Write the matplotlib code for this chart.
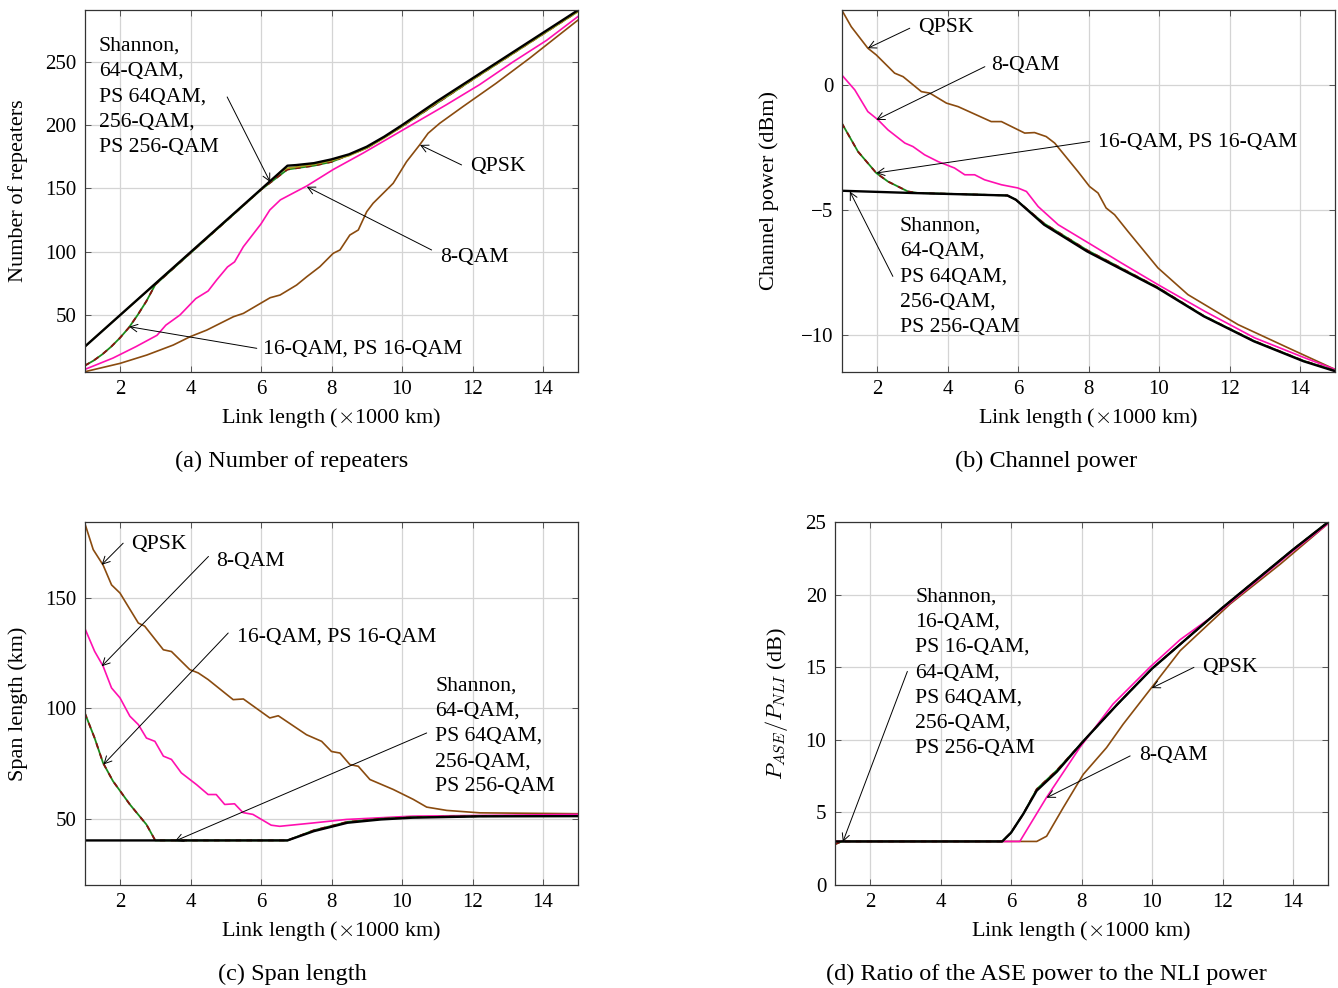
import matplotlib
matplotlib.use("Agg")
from matplotlib import pyplot as plt

plt.rcParams['font.family'] = ['Liberation Serif', 'DejaVu Serif']
plt.rcParams['mathtext.fontset'] = 'cm'
plt.rcParams['font.size'] = 15

BROWN = '#8a4b0f'
MAGENTA = '#ff10b0'
GREEN = '#1a8a1a'
DARKRED = '#8b1010'
OLIVE = '#a8a020'

# ---------------- (a) number of repeaters ----------------
a_shannon_x = [1, 6.75, 7, 7.5, 8, 8.5, 9, 9.5, 10, 11, 12, 13, 14, 15]
a_shannon_y = [25, 168, 168.5, 170, 173, 177, 183, 191, 200, 219, 237, 255, 273, 291]
a_qam16_x = [1, 1.25, 1.5, 1.75, 2, 2.25, 2.5, 2.75, 3, 4, 5, 6, 6.75, 7, 7.5, 8, 9, 10, 12, 15]
a_qam16_y = [10, 14, 19, 25, 32, 40, 50, 61, 74, 99, 124, 149, 165, 166, 168, 171, 182, 199, 236, 290]
a_qam64_x = [1, 6.6, 6.75, 7, 7.5, 8, 8.5, 9, 9.5, 10, 11, 12, 13, 14, 15]
a_qam64_y = [25, 164, 166, 167, 169, 172, 176, 182, 190, 199, 218, 236, 254, 272, 290]
a_qam8_x = [1, 1.8, 2.45, 3.05, 3.3, 3.7, 4.15, 4.5, 4.75, 5.05, 5.25, 5.5, 6.0, 6.25, 6.55, 7.3,
            8.05, 8.9, 9.95, 11.25, 12.2, 13.15, 14.1, 15]
a_qam8_y = [7, 16, 25, 34, 42, 50, 63, 69, 78, 88, 92, 104, 122, 133, 141, 152,
            165, 178, 195, 216, 232, 250, 267, 286]
a_qpsk_x = [1, 2, 2.76, 3.51, 3.99, 4.46, 5.22, 5.5, 6.26, 6.54, 7.01, 7.3, 7.67, 8.05, 8.24, 8.52,
            8.76, 9.0, 9.18, 9.56, 9.75, 10.13, 10.5, 10.74, 11.07, 11.73, 12.67, 13.62, 15]
a_qpsk_y = [5.2, 11.8, 18.4, 26.3, 32.9, 38.1, 48.7, 51.3, 63.7, 65.8, 73.7, 80.3, 88.2, 98.8, 101.4, 113.2,
            117.2, 131.7, 138.3, 148.8, 154.1, 171.2, 184.4, 193.6, 201.5, 214.7, 233.1, 252.9, 283.2]

# ---------------- (b) channel power ----------------
b_shannon_x = [1, 3, 5.7, 5.94, 6.74, 7.96, 9.95, 11.27, 12.69, 14.1, 15]
b_shannon_y = [-4.24, -4.33, -4.43, -4.6, -5.6, -6.67, -8.13, -9.27, -10.27, -11.07, -11.47]
b_qam16_x = [1, 1.46, 1.98, 2.31, 2.88, 3.16, 4, 5, 5.7, 5.94, 6.74, 7.96, 9.95, 11.27, 12.69, 14.1, 15]
b_qam16_y = [-1.53, -2.67, -3.53, -3.87, -4.27, -4.33, -4.36, -4.4, -4.43, -4.6, -5.55, -6.62, -8.1,
             -9.25, -10.25, -11.05, -11.45]
b_qam8_x = [1, 1.37, 1.74, 2.03, 2.31, 2.79, 3.02, 3.35, 3.73, 4.2, 4.49, 4.77, 5.05, 5.53, 6.0,
            6.24, 6.57, 7.14, 8.08, 8.93, 9.97, 11.3, 12.71, 14.13, 15]
b_qam8_y = [0.4, -0.2, -1.07, -1.4, -1.8, -2.33, -2.47, -2.8, -3.07, -3.33, -3.6, -3.6, -3.8, -4.0, -4.13,
            -4.27, -4.87, -5.6, -6.4, -7.13, -8.0, -9.07, -10.13, -10.93, -11.4]
b_qpsk_x = [1, 1.27, 1.74, 1.98, 2.5, 2.74, 3.26, 3.5, 3.97, 4.3, 5.24, 5.53, 6.19, 6.47, 6.8, 7.04,
            7.7, 8.03, 8.27, 8.5, 8.74, 9.12, 9.97, 10.82, 12.24, 13.66, 15]
b_qpsk_y = [3.0, 2.33, 1.47, 1.2, 0.47, 0.33, -0.27, -0.33, -0.73, -0.87, -1.47, -1.47, -1.93, -1.91, -2.07,
            -2.33, -3.47, -4.07, -4.33, -4.93, -5.2, -5.87, -7.33, -8.4, -9.6, -10.53, -11.4]

# ---------------- (c) span length ----------------
c_shannon_x = [1, 6.75, 7.5, 8.45, 9.4, 10.3, 12.2, 15]
c_shannon_y = [40.2, 40.2, 44.4, 48.2, 49.7, 50.5, 51.1, 51.2]
c_qam16_x = [1, 1.28, 1.52, 1.8, 2.28, 2.75, 3.0, 6.75, 7.5, 8.45, 9.4, 10.3, 12.2, 15]
c_qam16_y = [98, 86.6, 75.3, 67.1, 56.5, 47.4, 40.2, 40.2, 44.8, 48.6, 50.0, 50.7, 51.2, 51.3]
c_qam8_x = [1, 1.28, 1.52, 1.76, 2.0, 2.28, 2.52, 2.75, 2.99, 3.23, 3.46, 3.74, 4.17, 4.5, 4.73,
            4.97, 5.25, 5.49, 5.77, 6.29, 6.53, 7.47, 8.42, 10.3, 15]
c_qam8_y = [136.4, 125.9, 119.2, 109.3, 104.8, 96.5, 92.7, 86.6, 85.1, 78.4, 76.9, 70.8, 65.5, 61.0, 61.0,
            56.5, 56.8, 52.8, 52.0, 47.1, 46.6, 48.1, 49.7, 51.2, 52.0]
c_qpsk_x = [1, 1.24, 1.52, 1.76, 2.0, 2.52, 2.7, 3.23, 3.46, 3.98, 4.22, 4.5, 5.21, 5.5, 6.25, 6.49,
            7.29, 7.72, 8.0, 8.24, 8.52, 8.76, 9.09, 9.75, 10.32, 10.7, 11.27, 12.21, 15]
c_qpsk_y = [184, 172, 165, 156, 152.3, 138.7, 137.3, 126.6, 125.8, 117.6, 116.1, 113.1, 104, 104.3, 95.7, 96.7,
            88.1, 85.1, 80.5, 79.8, 74.6, 73.8, 67.8, 63.3, 58.8, 55.3, 53.8, 52.7, 52.3]

# ---------------- (d) ASE / NLI ratio ----------------
d_shannon_x = [1, 5.75, 6.0, 6.35, 6.73, 7.3, 8.05, 9.0, 10.0, 11.0, 12.0, 13.0, 14.0, 15.0]
d_shannon_y = [3.0, 3.0, 3.6, 4.9, 6.5, 7.8, 9.9, 12.4, 14.9, 17.0, 19.1, 21.1, 23.1, 25.0]
d_qam16_x = [1, 1.2, 5.75, 6.0, 6.35, 6.73, 7.3, 8.05, 9.0, 10.0, 11.0, 12.0, 13.0, 14.0, 15.0]
d_qam16_y = [2.8, 3.0, 3.0, 3.6, 4.9, 6.6, 7.9, 9.9, 12.4, 14.9, 17.0, 19.1, 21.1, 23.1, 25.0]
d_qam8_x = [1, 6.25, 7.0, 7.95, 8.89, 9.94, 10.8, 12, 13, 14, 15]
d_qam8_y = [3.0, 3.0, 6.0, 9.46, 12.45, 15.0, 16.9, 19.0, 21.0, 23.0, 24.9]
d_qpsk_x = [1, 6.73, 7.01, 7.48, 8.05, 8.71, 9.18, 9.99, 10.8, 12.22, 13.64, 15]
d_qpsk_y = [3.0, 3.0, 3.36, 5.32, 7.62, 9.46, 11.07, 13.6, 16.14, 19.36, 22.1, 24.9]

xticks = [2, 4, 6, 8, 10, 12, 14]
HIGH = "Shannon,\n64-QAM,\nPS 64QAM,\n256-QAM,\nPS 256-QAM"
HIGH_D = "Shannon,\n16-QAM,\nPS 16-QAM,\n64-QAM,\nPS 64QAM,\n256-QAM,\nPS 256-QAM"

LABEL_SIZE = 16
NOTE_SIZE = 15.6
CAPTION_SIZE = 17.5


def setup(ax, ylim, yticks, ylabel, label_x):
    ax.set_xlim(1, 15)
    ax.set_ylim(*ylim)
    ax.set_xticks(xticks)
    ax.set_yticks(yticks)
    ax.grid(True, color='#d4d4d4', linewidth=0.9)
    ax.set_axisbelow(True)
    ax.tick_params(direction='in', top=True, right=True, length=4, width=0.7, color='#555555', pad=6)
    for s in ax.spines.values():
        s.set_linewidth(0.9)
        s.set_color('#333333')
    ax.set_xlabel(r'Link length ($\times$1000 km)', labelpad=5, fontsize=LABEL_SIZE)
    ax.set_ylabel(ylabel, fontsize=LABEL_SIZE)
    ax.yaxis.set_label_coords(label_x, 0.5)


def curves(ax, sx, sy, q16x, q16y, q8x, q8y, qx, qy, q64x=None, q64y=None):
    ax.plot(qx, qy, color=BROWN, lw=1.2)
    ax.plot(q8x, q8y, color=MAGENTA, lw=1.2)
    ax.plot(q16x, q16y, color=GREEN, lw=1.3)
    ax.plot(q16x, q16y, color=DARKRED, lw=1.3, dashes=(3, 3))
    if q64y is not None:
        ax.plot(q64x, q64y, color=OLIVE, lw=1.3)
    ax.plot(sx, sy, color='black', lw=1.7)


def note(ax, text, tx, ty, tail, head, va='center'):
    ax.text(tx, ty, text, ha='left', va=va, linespacing=1.45, fontsize=NOTE_SIZE)
    ax.annotate('', xy=head, xytext=tail,
                arrowprops=dict(arrowstyle='->,head_length=0.35,head_width=0.18', color='black', lw=0.7,
                                shrinkA=0, shrinkB=0))


fig = plt.figure(figsize=(13.38, 9.88), dpi=100)
W, H = 1338.0, 988.0


def add_axes(left, top, right, bottom):
    return fig.add_axes([left / W, 1 - bottom / H, (right - left) / W, (bottom - top) / H])


ax_a = add_axes(84.75, 10, 578.25, 372)
ax_b = add_axes(841.75, 10, 1335.25, 372)
ax_c = add_axes(84.75, 522, 578.25, 885)
ax_d = add_axes(834.75, 522, 1328.25, 885)

# (a)
curves(ax_a, a_shannon_x, a_shannon_y, a_qam16_x, a_qam16_y, a_qam8_x, a_qam8_y, a_qpsk_x, a_qpsk_y,
       a_qam64_x, a_qam64_y)
setup(ax_a, (5, 291), [50, 100, 150, 200, 250], 'Number of repeaters', -0.115)
note(ax_a, HIGH, 1.40, 270, (5.04, 222.3), (6.26, 155.1), va='top')
note(ax_a, 'QPSK', 11.93, 167.5, (11.69, 168.6), (10.51, 184.4))
note(ax_a, '8-QAM', 11.09, 95.5, (10.84, 101.4), (7.30, 151.4))
note(ax_a, '16-QAM, PS 16-QAM', 6.06, 23, (5.88, 23.7), (2.26, 40.8))

# (b)
curves(ax_b, b_shannon_x, b_shannon_y, b_qam16_x, b_qam16_y, b_qam8_x, b_qam8_y, b_qpsk_x, b_qpsk_y)
setup(ax_b, (-11.5, 3.0), [-10, -5, 0], 'Channel power (dBm)', -0.127)
note(ax_b, 'QPSK', 3.16, 2.28, (2.93, 2.27), (1.74, 1.47))
note(ax_b, '8-QAM', 5.23, 0.76, (5.06, 0.73), (1.98, -1.4))
note(ax_b, '16-QAM, PS 16-QAM', 8.28, -2.28, (8.03, -2.27), (1.98, -3.53))
note(ax_b, HIGH, 2.65, -5.27, (2.45, -7.67), (1.23, -4.27), va='top')

# (c)
curves(ax_c, c_shannon_x, c_shannon_y, c_qam16_x, c_qam16_y, c_qam8_x, c_qam8_y, c_qpsk_x, c_qpsk_y)
setup(ax_c, (20, 184.5), [50, 100, 150], 'Span length (km)', -0.115)
note(ax_c, 'QPSK', 2.31, 174.5, (2.09, 174.9), (1.48, 165.1))
note(ax_c, '8-QAM', 4.73, 166.8, (4.51, 168.9), (1.48, 119.1))
note(ax_c, '16-QAM, PS 16-QAM', 5.32, 132.5, (5.07, 134.2), (1.53, 74.6))
note(ax_c, HIGH, 10.94, 114.6, (10.70, 88.9), (3.56, 39.9), va='top')

# (d)
curves(ax_d, d_shannon_x, d_shannon_y, d_qam16_x, d_qam16_y, d_qam8_x, d_qam8_y, d_qpsk_x, d_qpsk_y)
setup(ax_d, (0, 25), [0, 5, 10, 15, 20, 25], r'$P_{ASE}/P_{NLI}$ (dB)', -0.091)
note(ax_d, HIGH_D, 3.28, 20.5, (3.06, 14.71), (1.23, 2.97), va='top')
note(ax_d, 'QPSK', 11.42, 15.0, (11.19, 14.99), (9.99, 13.56))
note(ax_d, '8-QAM', 9.64, 8.93, (9.38, 8.89), (7.01, 6.01))

# sub captions
fig.text(292 / W, 1 - 461 / H, '(a) Number of repeaters', ha='center', va='center', fontsize=CAPTION_SIZE)
fig.text(1046 / W, 1 - 461 / H, '(b) Channel power', ha='center', va='center', fontsize=CAPTION_SIZE)
fig.text(292 / W, 1 - 974 / H, '(c) Span length', ha='center', va='center', fontsize=CAPTION_SIZE)
fig.text(1046 / W, 1 - 974 / H, '(d) Ratio of the ASE power to the NLI power', ha='center', va='center',
         fontsize=CAPTION_SIZE)

fig.savefig('out.png', dpi=100)
